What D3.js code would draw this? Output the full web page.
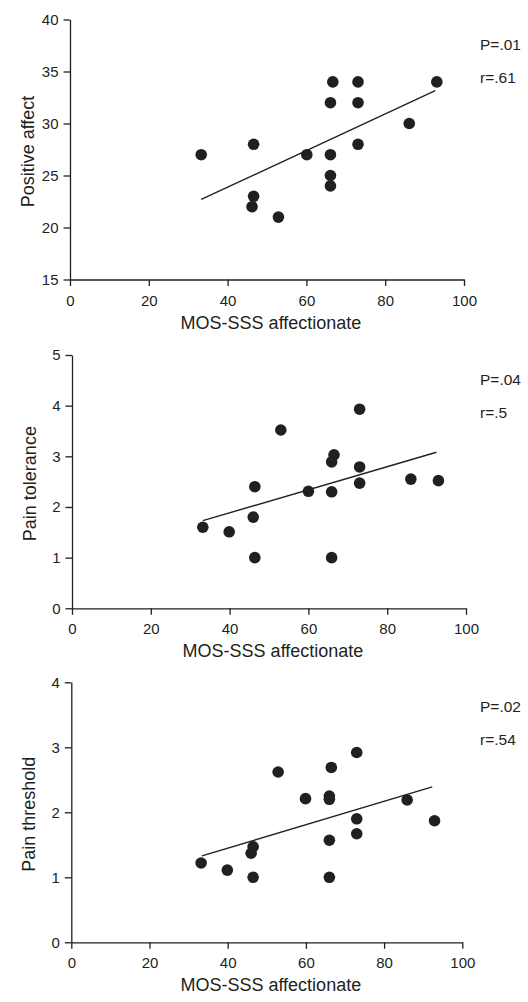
<!DOCTYPE html>
<html>
<head>
<meta charset="utf-8">
<script src="https://cdn.jsdelivr.net/npm/d3@7"></script>
<style>
  body { margin: 0; background: #fff; }
  svg { display: block; font-family: "Liberation Sans", Arial, sans-serif; }
  .tick text { fill: #231f20; }
  .domain, .tick line { stroke: #231f20; stroke-width: 1.3; }
</style>
</head>
<body>
<svg id="chart" width="528" height="1002"></svg>
<script>
// x values (MOS-SSS affectionate) and y values per panel
var affX = [33.3, 46.6, 46.6, 46.2, 52.9, 60.1, 66.1, 66.1, 66.1, 66.1, 66.7, 73.1, 73.1, 73.1, 86.1, 93.1]
var affY = [27, 28, 23, 22, 21, 27, 27, 25, 24, 32, 34, 34, 32, 28, 30, 34]
var affFit = [[33.3, 22.7], [92.7, 33.15]]

var tolX = [33.2, 39.9, 46.4, 46.0, 46.4, 53.0, 60.0, 65.9, 65.9, 66.5, 65.9, 73.0, 73.0, 73.0, 86.0, 93.0]
var tolY = [1.6, 1.51, 2.4, 1.8, 1.0, 3.52, 2.31, 2.3, 2.89, 3.03, 1.0, 3.93, 2.79, 2.47, 2.55, 2.52]
var tolFit = [[33.2, 1.73], [92.5, 3.08]]

var thrX = [33.2, 39.9, 46.5, 46.0, 46.5, 52.9, 59.9, 66.0, 66.0, 66.5, 66.0, 66.0, 73.0, 73.0, 73.0, 85.9, 92.9]
var thrY = [1.22, 1.11, 1.47, 1.37, 1.0, 2.62, 2.21, 2.25, 2.2, 2.69, 1.57, 1.0, 2.92, 1.9, 1.67, 2.19, 1.87]
var thrFit = [[33.4, 1.33], [92.3, 2.39]]

var xTicks = [0, 20, 40, 60, 80, 100]
var xTitle = "MOS-SSS affectionate"

var panels = [
  {x: affX, y: affY, fit: affFit, yDomain: [15, 40], yTicks: [15, 20, 25, 30, 35, 40],
   yTitle: "Positive affect", p: "P=.01", r: "r=.61",
   left: 70, right: 464, top: 19.5, bottom: 279.5},
  {x: tolX, y: tolY, fit: tolFit, yDomain: [0, 5], yTicks: [0, 1, 2, 3, 4, 5],
   yTitle: "Pain tolerance", p: "P=.04", r: "r=.5",
   left: 72, right: 466, top: 355, bottom: 608.3},
  {x: thrX, y: thrY, fit: thrFit, yDomain: [0, 4], yTicks: [0, 1, 2, 3, 4],
   yTitle: "Pain threshold", p: "P=.02", r: "r=.54",
   left: 71.3, right: 462.3, top: 682.3, bottom: 942.3}
]

var svg = d3.select("#chart")
var ink = "#231f20"

function styleAxis(a) {
  a.attr("font-family", null).attr("font-size", 15)
}

panels.forEach(function(pn) {
  var x = d3.scaleLinear().domain([0, 100]).range([pn.left, pn.right])
  var y = d3.scaleLinear().domain(pn.yDomain).range([pn.bottom, pn.top])
  var g = svg.append("g")

  g.append("g")
    .attr("transform", "translate(0," + pn.bottom + ")")
    .call(d3.axisBottom(x).tickValues(xTicks).tickFormat(d3.format("d")).tickSize(6.5).tickSizeOuter(0).tickPadding(9))
    .call(styleAxis)

  g.append("g")
    .attr("transform", "translate(" + pn.left + ",0)")
    .call(d3.axisLeft(y).tickValues(pn.yTicks).tickFormat(d3.format("d")).tickSize(6.5).tickSizeOuter(0).tickPadding(5))
    .call(styleAxis)

  g.selectAll("circle")
    .data(pn.x)
    .enter()
    .append("circle")
    .attr("cx", function(d) { return x(d) })
    .attr("cy", function(d, i) { return y(pn.y[i]) })
    .attr("r", 5.8)
    .attr("fill", ink)

  g.append("line")
    .attr("x1", x(pn.fit[0][0])).attr("y1", y(pn.fit[0][1]))
    .attr("x2", x(pn.fit[1][0])).attr("y2", y(pn.fit[1][1]))
    .attr("stroke", ink)
    .attr("stroke-width", 1.4)

  // axis titles
  g.append("text")
    .attr("x", (pn.left + pn.right) / 2 + 4)
    .attr("y", pn.bottom + 49)
    .attr("text-anchor", "middle")
    .attr("fill", ink)
    .style("font-size", "18px")
    .text(xTitle)

  g.append("text")
    .attr("transform", "translate(" + (pn.left - 36) + "," + ((pn.top + pn.bottom) / 2 + 2) + ") rotate(-90)")
    .attr("text-anchor", "middle")
    .attr("fill", ink)
    .style("font-size", "18px")
    .text(pn.yTitle)

  // stats
  g.append("text")
    .attr("x", 480)
    .attr("y", pn.top + 30)
    .attr("fill", ink)
    .style("font-size", "15.5px")
    .text(pn.p)
  g.append("text")
    .attr("x", 480)
    .attr("y", pn.top + 63)
    .attr("fill", ink)
    .style("font-size", "15.5px")
    .text(pn.r)
})
</script>
</body>
</html>
